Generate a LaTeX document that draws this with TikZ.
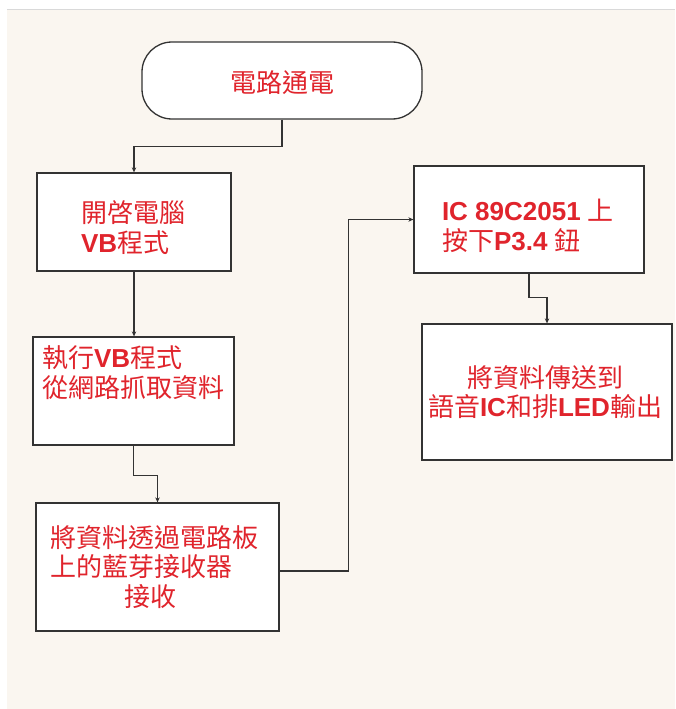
\documentclass[tikz,border=0pt]{standalone}
\usepackage{fontspec}
\setmainfont{Noto Sans CJK TC}
\newfontfamily\latfont{Liberation Sans}
\newcommand\LatB[1]{{\latfont\bfseries #1}}
\usetikzlibrary{arrows.meta,calc}
\definecolor{bgbeige}{HTML}{FAF6F0}
\definecolor{txtred}{HTML}{E0242C}
\definecolor{linegray}{HTML}{333333}
\tikzset{
  box/.style={draw=linegray, line width=1.3pt, fill=white, inner sep=0pt},
  term/.style={box, rounded corners=30pt},
  txt/.style={text=txtred, inner sep=0pt, font=\fontsize{26pt}{29.5pt}\selectfont},
  conn/.style={draw=linegray, line width=1.1pt},
  arr/.style={conn, -{Stealth[length=5pt,width=4.5pt]}}
}
\begin{document}
\begin{tikzpicture}[x=1pt,y=-1pt]
\useasboundingbox (0,0) rectangle (675,709);
\fill[white] (0,0) rectangle (675,709);
\fill[bgbeige] (7,10) rectangle (675,709);
\draw[line width=1pt, color=black!15] (7,9.5) -- (675,9.5);

% shapes
\node[term, minimum width=280pt, minimum height=77pt] (term) at (282,80.5) {};
\node[box, minimum width=194pt, minimum height=98pt] (b1) at (134,222) {};
\node[box, minimum width=201pt, minimum height=108pt] (b2) at (133.5,391) {};
\node[box, minimum width=243pt, minimum height=128pt] (b3) at (157.5,567) {};
\node[box, minimum width=230pt, minimum height=107pt] (b4) at (529,219.5) {};
\node[box, minimum width=250pt, minimum height=136pt] (b5) at (547,392) {};

% texts
\node[txt] (t0) at (282,83) {電路通電};
\node[txt, align=left] (t1) at (133,227.5) {開啓電腦\\\LatB{VB}程式};
\node[txt, align=left] (t2) at (133,372.5) {執行\LatB{VB}程式\\從網路抓取資料};
\node[txt, align=left] (t3) at (154,567) {將資料透過電路板\\上的藍芽接收器\\\hspace*{74pt}接收};
\node[txt, align=left] (t4) at (528,226) {\LatB{IC 89C2051 }上\\按下\LatB{P3.4 }鈕};
\node[txt, align=center] (t5) at (545,392) {將資料傳送到\\語音\LatB{IC}和排\LatB{LED}輸出};

% connectors
\draw[arr] (term.south) -- ++(0,27) -| (b1.north);
\draw[arr] (b1.south) -- (b1.south |- b2.north);
\draw[arr] (b2.south) -- ++(0,30) -| (b3.north);
\draw[arr] ($(b3.east)+(0,4)$) -- ++(69,0) |- (b4.west);
\draw[arr] (b4.south) -- ++(0,24) -| (b5.north);
\end{tikzpicture}
\end{document}
